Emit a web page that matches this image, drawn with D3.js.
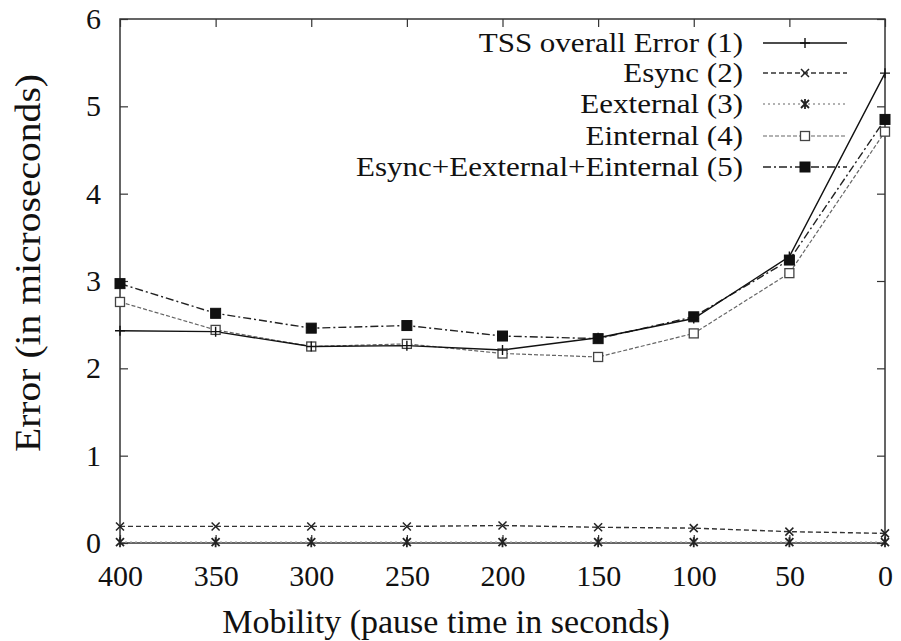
<!DOCTYPE html>
<html>
<head>
<meta charset="utf-8">
<script src="https://cdn.jsdelivr.net/npm/d3@7"></script>
<style>
  html, body { margin: 0; padding: 0; background: #fff; }
  svg { display: block; }
  text { font-family: "Liberation Serif", "DejaVu Serif", serif; fill: #111; }
</style>
</head>
<body>
<svg id="chart" width="901" height="641"></svg>
<script>
// ---- data ----
const pauseTimes = [400, 350, 300, 250, 200, 150, 100, 50, 0];
const yTicks = [0, 1, 2, 3, 4, 5, 6];
const tssOverall = [2.43, 2.42, 2.25, 2.26, 2.21, 2.35, 2.57, 3.28, 5.38];
const eSync      = [0.19, 0.19, 0.19, 0.19, 0.20, 0.18, 0.17, 0.13, 0.11];
const eExternal  = [0.01, 0.01, 0.01, 0.01, 0.01, 0.01, 0.01, 0.01, 0.01];
const eInternal  = [2.76, 2.44, 2.25, 2.28, 2.17, 2.13, 2.40, 3.09, 4.71];
const eSum       = [2.97, 2.63, 2.46, 2.49, 2.37, 2.34, 2.59, 3.24, 4.85];
const seriesNames = ["TSS overall Error (1)", "Esync (2)", "Eexternal (3)", "Einternal (4)", "Esync+Eexternal+Einternal (5)"];
const seriesValues = [tssOverall, eSync, eExternal, eInternal, eSum];
const xTitle = "Mobility (pause time in seconds)";
const yTitle = "Error (in microseconds)";

(function () {
// ---- styles ----
const styles = [
  { stroke: "#111", dash: null, marker: "plus", width: 1.4 },
  { stroke: "#333", dash: "5,3", marker: "cross", width: 1.4 },
  { stroke: "#999", dash: "2,3", marker: "star", width: 1.4 },
  { stroke: "#666", dash: "4,2", marker: "openSquare", width: 1.2 },
  { stroke: "#222", dash: "8,3,2,3", marker: "filledSquare", width: 1.4 }
];

const svg = d3.select("#chart");
const pLeft = 120, pRight = 885, pTop = 19, pBottom = 543;
const x = d3.scaleLinear().domain([400, 0]).range([pLeft, pRight]);
const y = d3.scaleLinear().domain([0, 6]).range([pBottom, pTop]);

// frame
svg.append("rect").attr("x", pLeft).attr("y", pTop)
  .attr("width", pRight - pLeft).attr("height", pBottom - pTop)
  .attr("fill", "none").attr("stroke", "#333").attr("stroke-width", 1.5);

// axes (inward ticks, gnuplot style)
const tickLen = 8;
const gl = svg.append("g").attr("transform", `translate(${pLeft},0)`)
  .call(d3.axisLeft(y).tickValues(yTicks).tickFormat(d3.format("d")).tickSizeInner(-tickLen).tickSizeOuter(0).tickPadding(19));
const gr = svg.append("g").attr("transform", `translate(${pRight},0)`)
  .call(d3.axisRight(y).tickValues(yTicks).tickFormat("").tickSizeInner(-tickLen).tickSizeOuter(0));
const gb = svg.append("g").attr("transform", `translate(0,${pBottom})`)
  .call(d3.axisBottom(x).tickValues(pauseTimes).tickFormat(d3.format("d")).tickSizeInner(-tickLen).tickSizeOuter(0).tickPadding(22));
const gt = svg.append("g").attr("transform", `translate(0,${pTop})`)
  .call(d3.axisTop(x).tickValues(pauseTimes).tickFormat("").tickSizeInner(-tickLen).tickSizeOuter(0));
[gl, gr, gb, gt].forEach(g => {
  g.select(".domain").remove();
  g.selectAll(".tick line").attr("stroke", "#333").attr("stroke-width", 1.2);
  g.selectAll(".tick text").attr("font-size", 30).attr("font-family", "Liberation Serif").attr("fill", "#111");
});
gb.selectAll(".tick text").attr("dy", "0.71em");

// axis titles
svg.append("text").attr("x", 446).attr("y", 633).attr("text-anchor", "middle")
  .attr("font-size", 34).text(xTitle);
svg.append("text").attr("transform", "translate(40,263) rotate(-90)").attr("text-anchor", "middle")
  .attr("font-size", 35).attr("textLength", 378).attr("lengthAdjust", "spacingAndGlyphs").text(yTitle);

// markers
function drawMarker(g, type, cx, cy, color) {
  const s = 5;
  if (type === "plus") {
    g.append("path").attr("d", `M${cx - s},${cy}H${cx + s}M${cx},${cy - s}V${cy + s}`).attr("stroke", color).attr("stroke-width", 1.4).attr("fill", "none");
  } else if (type === "cross") {
    const c = 4;
    g.append("path").attr("d", `M${cx - c},${cy - c}L${cx + c},${cy + c}M${cx - c},${cy + c}L${cx + c},${cy - c}`).attr("stroke", "#222").attr("stroke-width", 1.5).attr("fill", "none");
  } else if (type === "star") {
    const c = 4;
    g.append("path").attr("d", `M${cx - c},${cy - c}L${cx + c},${cy + c}M${cx - c},${cy + c}L${cx + c},${cy - c}M${cx},${cy - c - 1}V${cy + c + 1}`).attr("stroke", "#222").attr("stroke-width", 1.8).attr("fill", "none");
  } else if (type === "openSquare") {
    g.append("rect").attr("x", cx - 4.5).attr("y", cy - 4.5).attr("width", 9).attr("height", 9)
      .attr("fill", "#fff").attr("stroke", "#444").attr("stroke-width", 1.3);
  } else if (type === "filledSquare") {
    g.append("rect").attr("x", cx - 5).attr("y", cy - 5).attr("width", 10).attr("height", 10)
      .attr("fill", "#111").attr("stroke", "#111");
  }
}

const line = d3.line().x((d, i) => x(pauseTimes[i])).y(d => y(d)).curve(d3.curveLinear);
const plot = svg.append("g");
const order = [2, 1, 3, 4, 0];
order.forEach(k => {
  const st = styles[k];
  plot.append("path").datum(seriesValues[k]).attr("d", line)
    .attr("fill", "none").attr("stroke", st.stroke).attr("stroke-width", st.width)
    .attr("stroke-dasharray", st.dash);
});
order.forEach(k => {
  const st = styles[k];
  const mg = plot.append("g");
  seriesValues[k].forEach((v, i) => drawMarker(mg, st.marker, x(pauseTimes[i]), y(v), st.stroke));
});

// legend
const legend = svg.append("g");
const rowY = [43, 73, 104, 136, 167];
seriesNames.forEach((name, k) => {
  const st = styles[k];
  const cy = rowY[k];
  const t = legend.append("text").attr("x", 743).attr("y", cy + 9).attr("text-anchor", "end")
    .attr("font-size", 28).text(name);
  const natural = t.node().getComputedTextLength();
  t.attr("textLength", natural * 31 / 28).attr("lengthAdjust", "spacingAndGlyphs");
  legend.append("line").attr("x1", 763).attr("x2", 847).attr("y1", cy).attr("y2", cy)
    .attr("stroke", st.stroke).attr("stroke-width", st.width).attr("stroke-dasharray", st.dash);
  drawMarker(legend, st.marker, 805, cy, st.stroke);
});
})();
</script>
</body>
</html>
